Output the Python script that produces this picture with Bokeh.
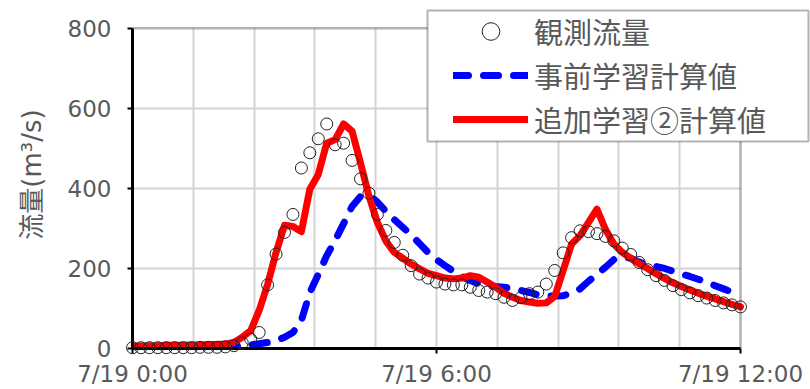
from bokeh.plotting import figure
from bokeh.models import Range1d, FixedTicker, Legend, LegendItem, BoxAnnotation
from bokeh.embed import file_html
from bokeh.resources import INLINE

# time in hours from 7/19 0:00, 10-minute steps
hours = [i * 10 / 60 for i in range(73)]

observed = [2, 2, 2, 2, 2, 2, 2, 2, 3, 3, 3,
            4, 7, 14, 23, 40, 159, 236, 290, 335, 451,
            489, 524, 561, 509, 513, 470, 424, 388, 335, 295,
            265, 233, 207, 186, 176, 166, 161, 159, 159, 153,
            145, 141, 137, 128, 120, 127, 137, 141, 161, 195,
            239, 277, 294, 292, 287, 280, 269, 251, 235, 215,
            197, 182, 170, 157, 147, 139, 132, 126, 120, 114, 109, 104]

prior = [2, 2, 2, 2, 2, 2, 2, 2, 2, 3, 3,
         4, 5, 7, 9, 12, 15, 20, 28, 40, 70,
         140, 185, 232, 270, 312, 355, 380, 383, 366, 343,
         322, 303, 284, 262, 240, 222, 207, 193, 180, 170,
         162, 158, 155, 153, 149, 145, 140, 134, 132, 131,
         132, 138, 149, 168, 185, 203, 222, 228, 226, 216,
         209, 205, 200, 193, 186, 180, 173, 165, 157, 149, 141, 132]

additional = [6, 6, 7, 7, 8, 8, 8, 9, 9, 10, 10,
              11, 15, 28, 45, 95, 160, 240, 308, 305, 292,
              398, 435, 513, 522, 561, 543, 464, 381, 315, 269,
              240, 226, 211, 199, 188, 182, 176, 174, 176, 182,
              178, 166, 153, 138, 128, 120, 116, 113, 114, 130,
              195, 261, 282, 315, 348, 298, 261, 240, 225, 212,
              200, 187, 175, 164, 155, 146, 138, 131, 124, 117, 110, 104]

x_ticks = [0, 6, 12]
x_tick_labels = ["7/19 0:00", "7/19 6:00", "7/19 12:00"]
x_grid = [1.2, 2.4, 3.6, 4.8, 6.0, 7.2, 8.4, 9.6, 10.8]
y_ticks = [0, 200, 400, 600, 800]
y_grid = [200, 400, 600]
series_names = ["観測流量", "事前学習計算値", "追加学習②計算値"]

GRAY = "#595959"
FONT = "Noto Sans CJK JP"
NUM_FONT = "DejaVu Sans"
MIX_FONT = "DejaVu Sans, Noto Sans CJK JP"

# layout: the frame covers the legend area too; the plotted area is 608 x 322 px
W, H = 810, 389
LEFT, BOTTOM = 132, 39
PLOT_W, PLOT_H = 608, 322
x_end = x_ticks[-1] * (W - LEFT) / PLOT_W
y_end = y_ticks[-1] * (H - BOTTOM) / PLOT_H

p = figure(width=W, height=H, x_range=Range1d(x_ticks[0], x_end),
           y_range=Range1d(y_ticks[0], y_end),
           output_backend="svg", toolbar_location=None,
           min_border_left=LEFT, min_border_right=0, min_border_top=0,
           min_border_bottom=BOTTOM)
p.outline_line_color = None
p.background_fill_color = "white"

# grids
p.xgrid.ticker = FixedTicker(ticks=x_grid)
p.ygrid.ticker = FixedTicker(ticks=y_grid)
p.xgrid.cross_bounds = (y_ticks[0], y_ticks[-1])
p.ygrid.cross_bounds = (x_ticks[0], x_ticks[-1])
for g in (p.xgrid[0], p.ygrid[0]):
    g.grid_line_color = "#d4d4d4"
    g.grid_line_width = 2

# axes
xa = p.xaxis[0]
xa.ticker = FixedTicker(ticks=x_ticks)
xa.major_label_overrides = {t: l for t, l in zip(x_ticks, x_tick_labels)}
xa.bounds = (x_ticks[0], x_ticks[-1])
ya = p.yaxis[0]
ya.ticker = FixedTicker(ticks=y_ticks)
ya.bounds = (y_ticks[0], y_ticks[-1])
for ax in (xa, ya):
    ax.axis_line_color = "black"
    ax.axis_line_width = 3
    ax.major_tick_line_color = "black"
    ax.major_tick_line_width = 2
    ax.major_tick_out = 5
    ax.major_tick_in = 0
    ax.minor_tick_line_color = None
    ax.major_label_text_color = GRAY
    ax.major_label_text_font = NUM_FONT
    ax.major_label_text_font_size = "23px"
xa.major_label_standoff = 7
ya.major_label_standoff = 16
ya.axis_label = "流量(m³/s)"
ya.axis_label_text_font = MIX_FONT
ya.axis_label_text_font_size = "26px"
ya.axis_label_text_font_style = "normal"
ya.axis_label_text_color = GRAY
ya.axis_label_standoff = 18

# plot-area border (top and right sides)
frame_box = BoxAnnotation(left=x_ticks[0], right=x_ticks[-1], bottom=y_ticks[0], top=y_ticks[-1],
                          fill_alpha=0, line_color="black", line_width=2.5, level="annotation")
p.add_layout(frame_box)

# data
r_prior = p.line(hours, prior, line_color="#0000ff", line_width=7,
                 line_dash="15 15", line_cap="round", line_join="round")
r_add = p.line(hours, additional, line_color="#ff0000", line_width=7,
               line_cap="round", line_join="round")
r_obs = p.scatter(hours, observed, marker="circle", size=12, fill_color=None,
                  line_color="#222222", line_width=1, level="overlay")

# legend frame
box = BoxAnnotation(left=427, right=808, top=10, bottom=141,
                    left_units="canvas", right_units="canvas",
                    top_units="canvas", bottom_units="canvas",
                    fill_color="white", fill_alpha=1.0,
                    line_color="black", line_width=2, level="annotation")
p.add_layout(box)

legend = Legend(items=[LegendItem(label=series_names[0], renderers=[r_obs]),
                       LegendItem(label=series_names[1], renderers=[r_prior]),
                       LegendItem(label=series_names[2], renderers=[r_add])],
                location=(321, 207), orientation="vertical",
                glyph_width=75, glyph_height=44, label_height=44,
                label_standoff=6, spacing=0, padding=0, margin=0,
                border_line_alpha=0, background_fill_alpha=0,
                label_text_font=FONT, label_text_font_size="29px",
                label_text_color=GRAY)
p.add_layout(legend, "center")

open("out.html", "w").write(file_html(p, INLINE))
